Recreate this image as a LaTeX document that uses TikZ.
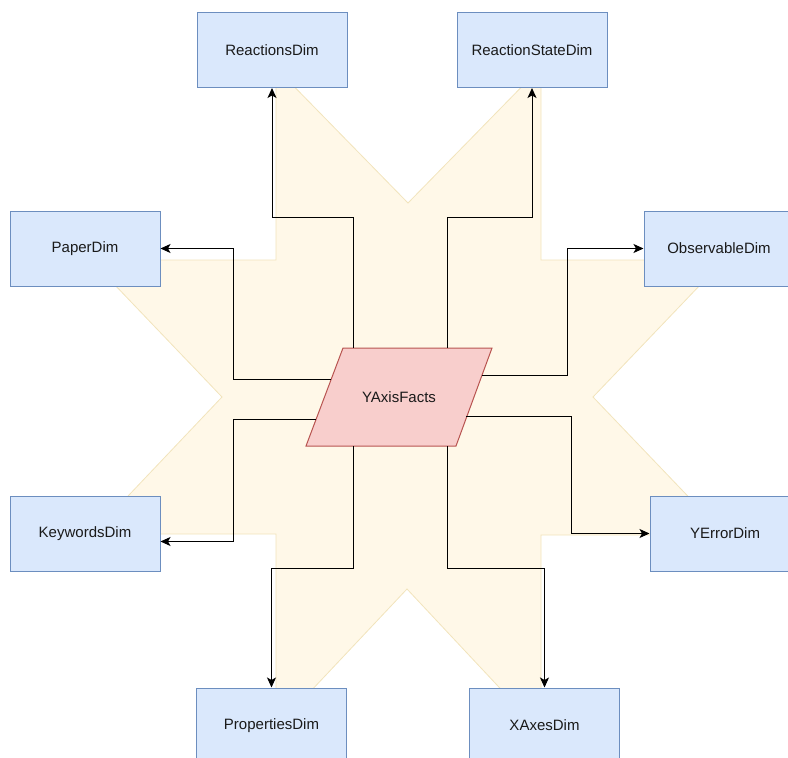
\documentclass[tikz,border=0pt]{standalone}
\usepackage{fontspec}
\setmainfont{Liberation Sans}
\usetikzlibrary{arrows.meta,calc}
\definecolor{dimfill}{HTML}{DAE8FC}
\definecolor{dimline}{HTML}{6C8EBF}
\definecolor{factfill}{HTML}{F8CECC}
\definecolor{factline}{HTML}{B85450}
\definecolor{backfill}{HTML}{FFF8E8}
\definecolor{backline}{HTML}{F2E4BC}
\definecolor{inkgray}{HTML}{1A1A1A}

\begin{document}
\begin{tikzpicture}[x=1pt,y=-1pt,font=\fontsize{15}{18}\selectfont,text=inkgray]

      \clip (0,0) rectangle (788,758);

      % star shaped backdrop
      \filldraw[fill=backfill,draw=backline,line width=0.8pt]
        (276,68) -- (408,203) -- (541,67) -- (541,260) -- (724,260)
        -- (593,397) -- (725,535) -- (541,535) -- (541,732) -- (407,589)
        -- (276,728) -- (276,534) -- (92,534) -- (222,397) -- (91,260)
        -- (276,260) -- cycle;

      \begin{scope}[every node/.style={draw=dimline,fill=dimfill,line width=1pt,
          minimum width=150,minimum height=75,inner sep=0}]
        \node (reactions)  at (272,50)    {ReactionsDim};
        \node (state)      at (532,50)    {ReactionStateDim};
        \node (paper)      at (85,248.5)  {PaperDim};
        \node (observable) at (719,248.5) {ObservableDim};
        \node (keywords)   at (85,533.5)  {KeywordsDim};
        \node (yerror)     at (725,533.5) {YErrorDim};
        \node (properties) at (271.5,725.5) {PropertiesDim};
        \node (xaxes)      at (544.5,725.5) {XAxesDim};
      \end{scope}

      % fact table
      \filldraw[fill=factfill,draw=factline,line width=1pt]
        (343,348) -- (492,348) -- (456,446) -- (306,446) -- cycle;
      \node (facts) at (399,397) {YAxisFacts};

      \begin{scope}[every path/.style={draw=black,line width=1pt,
          -{Stealth[length=10pt,width=9pt,inset=2.5pt]}}]
        \draw ($(facts)+(-46,-49)$) -- ++(0,-131) -| (reactions.south);
        \draw ($(facts)+(48,-49)$)  -- ++(0,-131) -| (state.south);
        \draw ($(facts)+(-68,-18)$) -| ($(paper.east)+(73,0)$) -- (paper.east);
        \draw ($(facts)+(83,-22)$)  -| ($(observable.west)+(-76,0)$) -- (observable.west);
        \draw ($(facts)+(-83,22)$)  -| ($(keywords.east)+(73,8)$) -- ($(keywords.east)+(0,8)$);
        \draw ($(facts)+(67,19)$)   -| ($(yerror.west)+(-78,0)$) -- (yerror.west);
        \draw ($(facts)+(-46,49)$)  -- ++(0,122) -| (properties.north);
        \draw ($(facts)+(48,49)$)   -- ++(0,122) -| (xaxes.north);
      \end{scope}

    \end{tikzpicture}
\end{document}
